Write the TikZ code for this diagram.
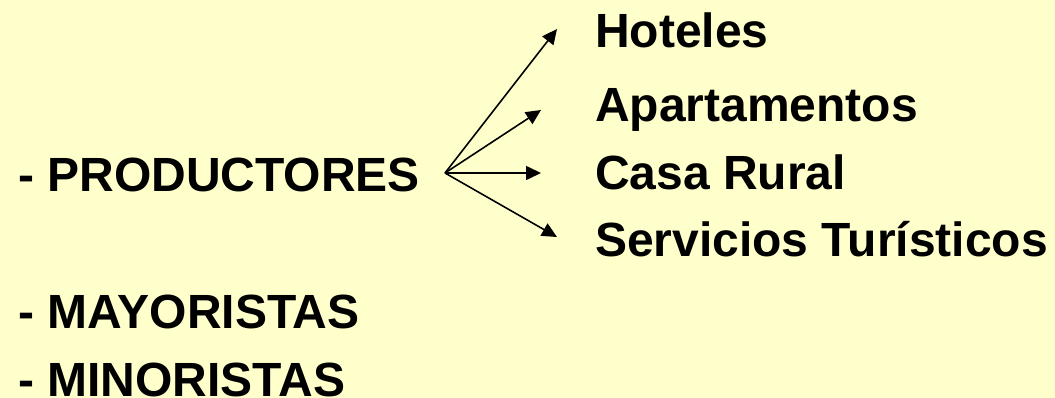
\documentclass[tikz,border=0pt]{standalone}
\usepackage{fontspec}
\setmainfont{Liberation Sans}
\usetikzlibrary{arrows.meta}
\definecolor{bg}{HTML}{FFFFCC}
\begin{document}
\begin{tikzpicture}[x=1pt,y=-1pt,
  lbl/.style={anchor=base west,inner sep=0pt,font=\fontsize{48}{54}\selectfont\bfseries},
  arr/.style={line width=1.6pt,-{Triangle[length=15pt,width=14pt]}}]
\fill[bg] (0,0) rectangle (1055,398);
\useasboundingbox (0,0) rectangle (1055,398);
\node[lbl] (prod) at (18,192) {- PRODUCTORES};
\node[lbl] (may) at (18,328) {- MAYORISTAS};
\node[lbl] (min) at (18,396) {- MINORISTAS};
\node[lbl] (hot) at (595,48) {Hoteles};
\node[lbl] (apa) at (595,122) {Apartamentos};
\node[lbl] (cas) at (595,190) {Casa Rural};
\node[lbl] (ser) at (595,257) {Servicios Turísticos};
\coordinate (o) at (445,173);
\coordinate (t1) at (557,29);
\coordinate (t2) at (541,110);
\coordinate (t3) at (541,173);
\coordinate (t4) at (557,237);
\draw[arr] (o) -- (t1);
\draw[arr] (o) -- (t2);
\draw[arr] (o) -- (t3);
\draw[arr] (o) -- (t4);
\end{tikzpicture}
\end{document}
